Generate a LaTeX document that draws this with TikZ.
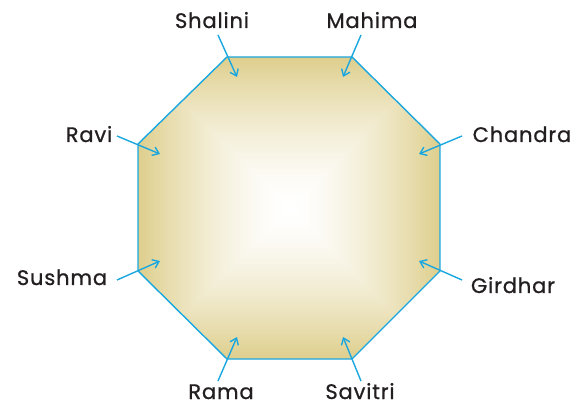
\documentclass[tikz,border=0pt]{standalone}
\usepackage{fontspec}
\setmainfont{Poppins}[FakeBold=0.8,LetterSpace=4]
\usetikzlibrary{arrows.meta}
\definecolor{edgeblue}{HTML}{1AA7E0}
\definecolor{txt}{HTML}{231F20}
\pgfdeclarefunctionalshading{squareshade}{\pgfpoint{-50bp}{-50bp}}{\pgfpoint{50bp}{50bp}}{}{%
abs exch abs 2 copy lt {exch} if pop 25 div dup 1 gt {pop 1} if dup sqrt mul
dup dup 0.45 mul 1 exch sub 3 1 roll 0.19 mul 1 exch sub 3 1 roll 0.13 mul 1 exch sub 3 1 roll}
\tikzset{
  lbl/.style={anchor=base, text=txt, font=\fontsize{21}{24}\selectfont, inner sep=0pt},
  ptr/.style={draw=edgeblue, line width=1.4pt, -{Straight Barb[length=6pt,width=9pt,line width=1.4pt]}},
}
\begin{document}
\begin{tikzpicture}[x=1pt,y=-1pt]
\useasboundingbox (0,0) rectangle (576,406);
% octagon
\coordinate (v1) at (227,57);
\coordinate (v2) at (352,57);
\coordinate (v3) at (440,144);
\coordinate (v4) at (440,271);
\coordinate (v5) at (352,359);
\coordinate (v6) at (227,359);
\coordinate (v7) at (138,271);
\coordinate (v8) at (138,144);
\path[shading=squareshade] (v1) -- (v2) -- (v3) -- (v4) -- (v5) -- (v6) -- (v7) -- (v8) -- cycle;
\draw[edgeblue, line width=1.4pt, line join=miter] (v1) -- (v2) -- (v3) -- (v4) -- (v5) -- (v6) -- (v7) -- (v8) -- cycle;
% labels
\node[lbl] (shalini) at (212,28) {Shalini};
\node[lbl] (mahima) at (372,28) {Mahima};
\node[lbl] (ravi) at (89,142) {Ravi};
\node[lbl] (chandra) at (522,142) {Chandra};
\node[lbl] (sushma) at (62,285) {Sushma};
\node[lbl] (girdhar) at (513,293) {Girdhar};
\node[lbl] (rama) at (221,399) {Rama};
\node[lbl] (savitri) at (360,399) {Savitri};
% arrow start / end points
\coordinate (s1) at (218,35);  \coordinate (e1) at (237,77);
\coordinate (s2) at (361,35);  \coordinate (e2) at (343,77);
\coordinate (s3) at (117,136); \coordinate (e3) at (160,154);
\coordinate (s4) at (462,136); \coordinate (e4) at (419,154);
\coordinate (s5) at (117,280); \coordinate (e5) at (160,261);
\coordinate (s6) at (462,280); \coordinate (e6) at (419,261);
\coordinate (s7) at (218,381); \coordinate (e7) at (237,337);
\coordinate (s8) at (361,381); \coordinate (e8) at (343,337);
\foreach \i in {1,...,8} { \draw[ptr] (s\i) -- (e\i); }
\end{tikzpicture}
\end{document}
